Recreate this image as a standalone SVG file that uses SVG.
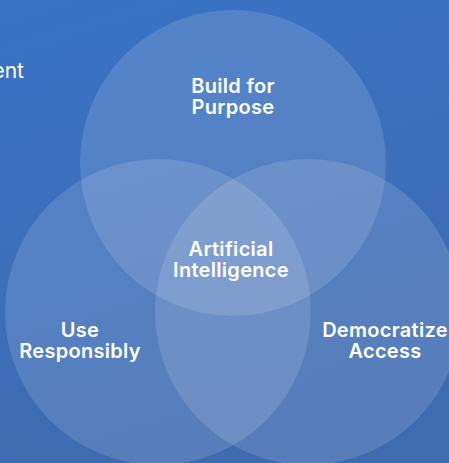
<svg xmlns="http://www.w3.org/2000/svg" width="449" height="463" viewBox="0 0 449 463">
<defs>
<linearGradient id="bg" x1="0" y1="0" x2="0.3" y2="1">
<stop offset="0" stop-color="#3973c6"/>
<stop offset="1" stop-color="#3f6bb1"/>
</linearGradient>
</defs>
<style>
.c{fill:#ffffff;fill-opacity:0.13;}
.t{font-family:Inter,"Liberation Sans",sans-serif;font-weight:600;font-size:20px;letter-spacing:0.3px;fill:#ffffff;text-anchor:middle;}
.s{font-family:Inter,"Liberation Sans",sans-serif;font-weight:400;font-size:21px;fill:#ffffff;text-anchor:end;}
</style>
<rect width="449" height="463" fill="url(#bg)"/>
<text class="s" x="24" y="78">ent</text>
<g id="node-build">
<circle class="c" cx="233" cy="163" r="153"/>
<text class="t" x="233" y="93">Build for</text>
<text class="t" x="233" y="114">Purpose</text>
</g>
<g id="node-use">
<circle class="c" cx="158" cy="312" r="153"/>
<text class="t" x="80" y="337">Use</text>
<text class="t" x="80" y="358">Responsibly</text>
</g>
<g id="node-access">
<circle class="c" cx="308" cy="312" r="153"/>
<text class="t" x="385" y="337">Democratize</text>
<text class="t" x="385" y="358">Access</text>
</g>
<g id="node-ai">
<text class="t" x="231" y="256">Artificial</text>
<text class="t" x="231" y="277">Intelligence</text>
</g>
<g id="connectors"></g>
</svg>
